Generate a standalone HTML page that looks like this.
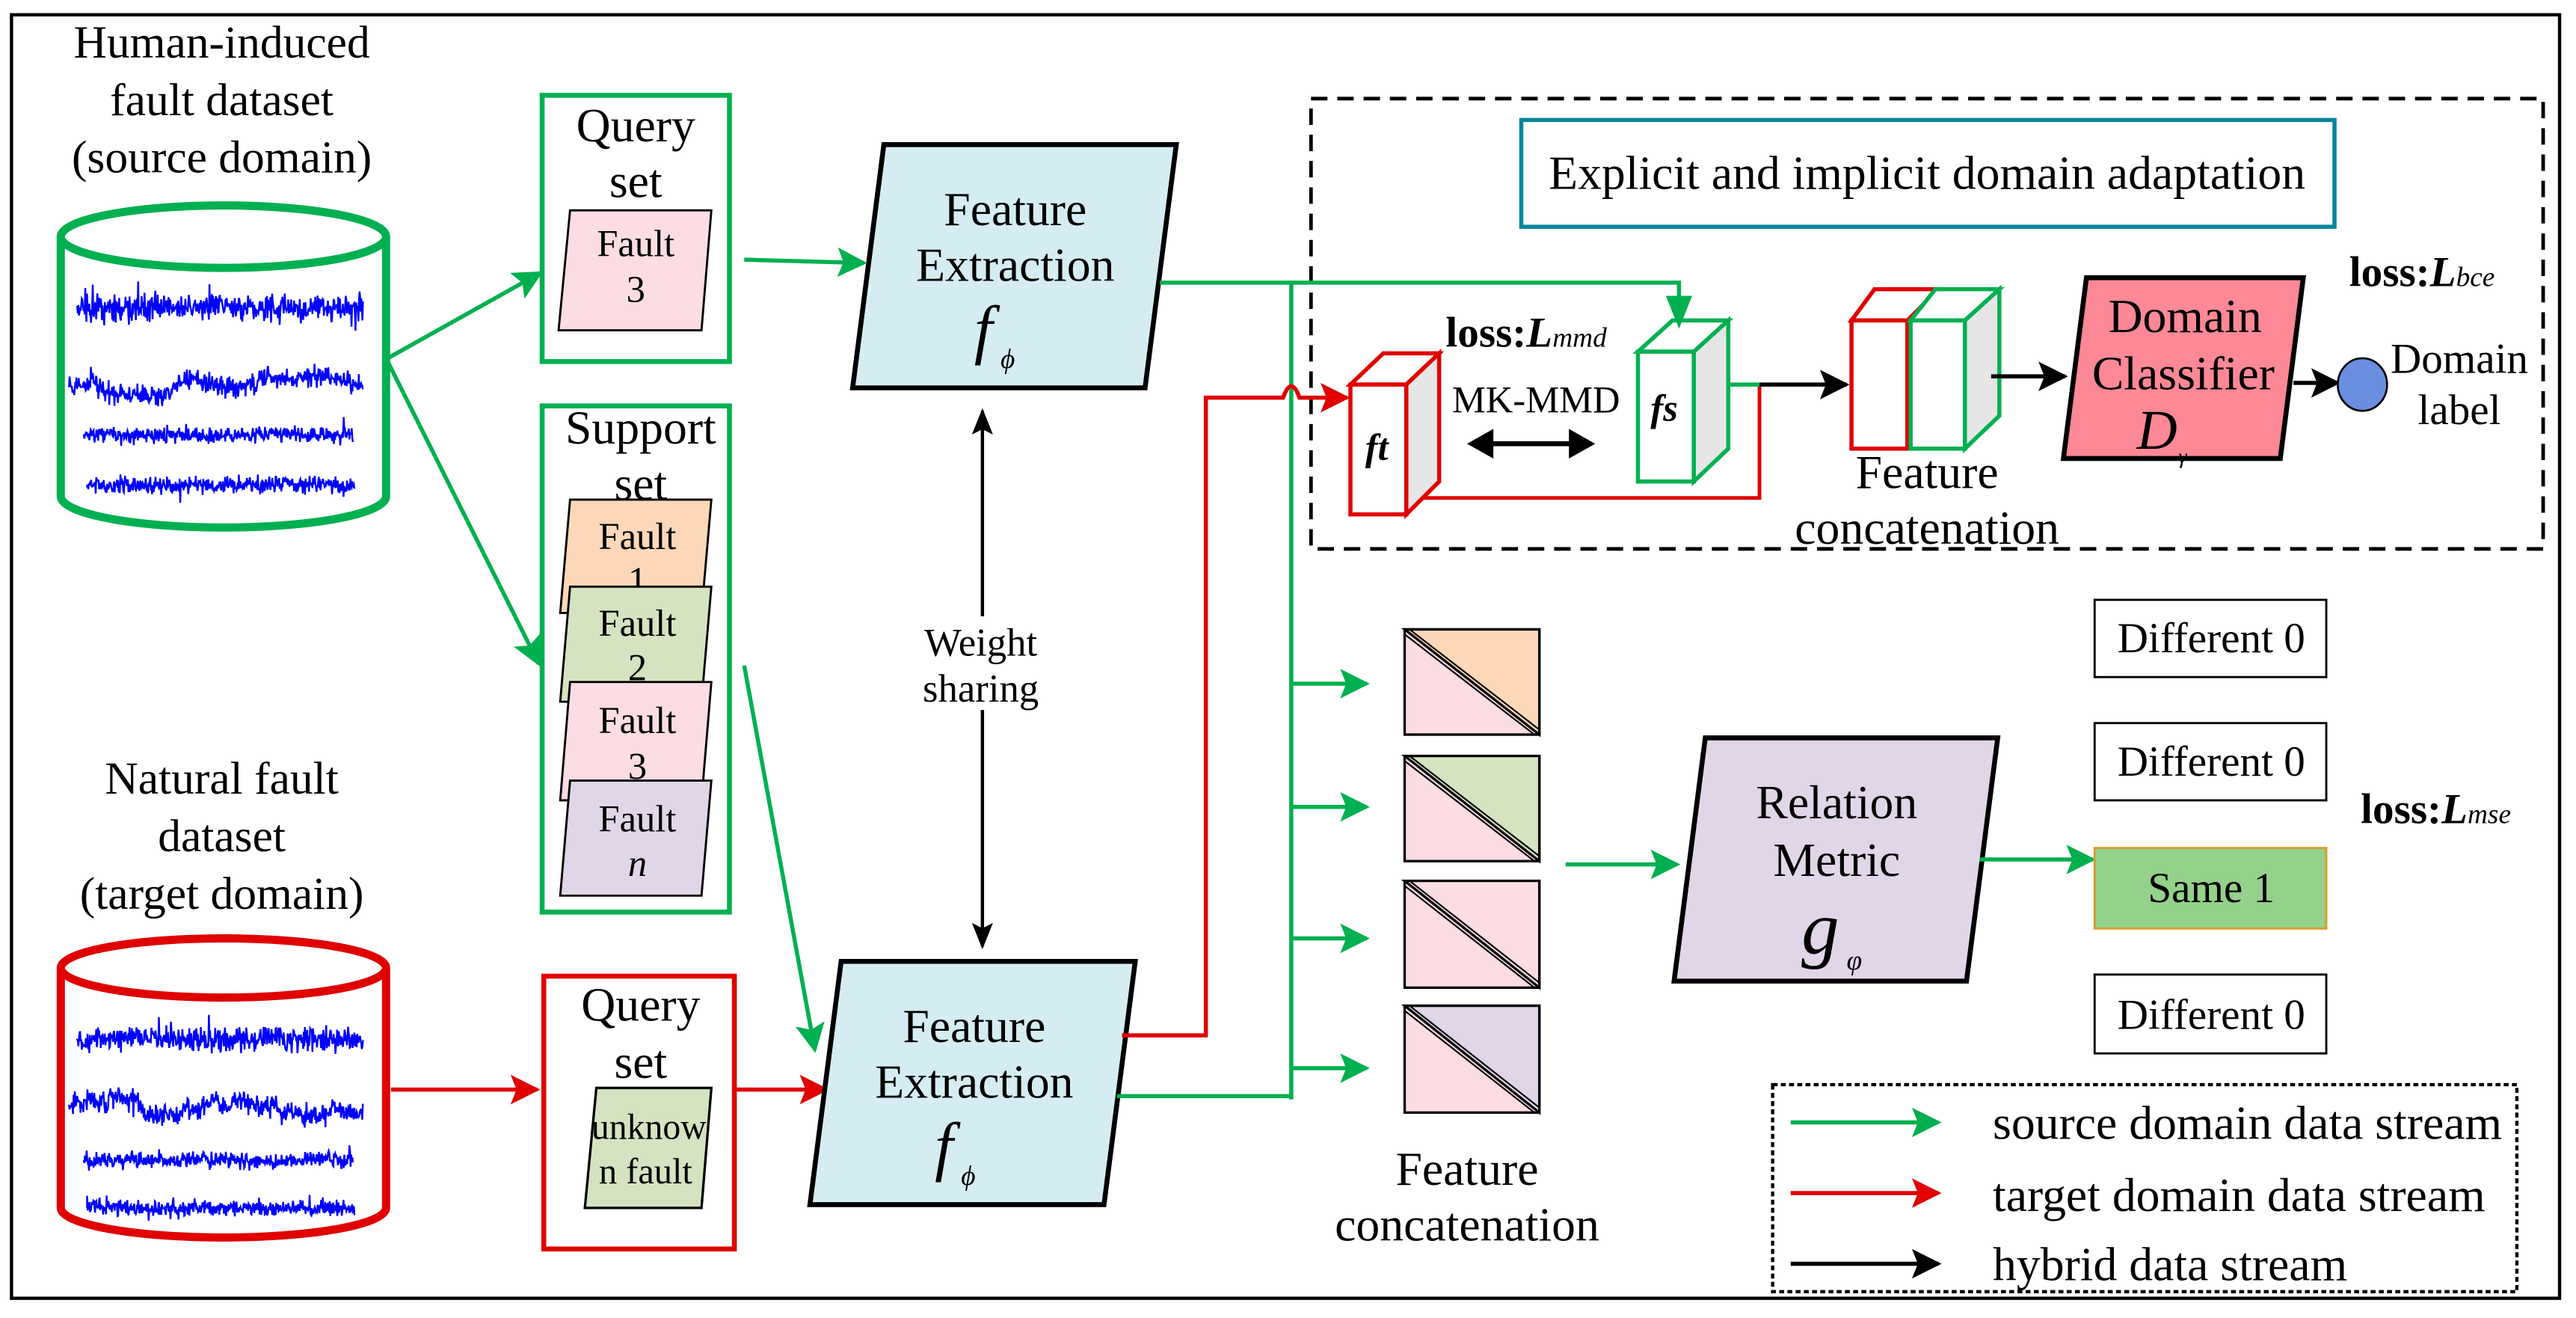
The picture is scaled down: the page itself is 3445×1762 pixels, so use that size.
<!DOCTYPE html>
<html><head><meta charset="utf-8"><style>
html,body{margin:0;padding:0;background:#fff}
svg{display:block}
text{font-family:"Liberation Serif","Times New Roman",serif;fill:#000}
</style></head><body>
<svg id="s" width="3445" height="1762" viewBox="0 0 1568 802" preserveAspectRatio="none" xmlns="http://www.w3.org/2000/svg" font-family="Liberation Serif, serif">
<defs>
<marker id="agL" viewBox="0 0 10 10" refX="9" refY="5" markerWidth="18" markerHeight="18" orient="auto" markerUnits="userSpaceOnUse"><path d="M0,0 L10,5 L0,10 L2,5 z" fill="#00b050"/></marker>
<marker id="arL" viewBox="0 0 10 10" refX="9" refY="5" markerWidth="18" markerHeight="18" orient="auto" markerUnits="userSpaceOnUse"><path d="M0,0 L10,5 L0,10 L2,5 z" fill="#e00000"/></marker>
<marker id="akL" viewBox="0 0 10 10" refX="9" refY="5" markerWidth="18" markerHeight="18" orient="auto" markerUnits="userSpaceOnUse"><path d="M0,0 L10,5 L0,10 L2,5 z" fill="#000"/></marker>
<marker id="akS" viewBox="0 0 10 10" refX="9" refY="5" markerWidth="16" markerHeight="16" orient="auto-start-reverse" markerUnits="userSpaceOnUse"><path d="M0,1 L10,5 L0,9 L2,5 z" fill="#000"/></marker>
</defs>

<rect x="7" y="9" width="1551" height="781" fill="none" stroke="#000" stroke-width="2"/>

<g font-size="28" text-anchor="middle">
<text x="135" y="35">Human-induced</text>
<text x="135" y="70">fault dataset</text>
<text x="135" y="105">(source domain)</text>
<text x="135" y="483">Natural fault</text>
<text x="135" y="518">dataset</text>
<text x="135" y="553">(target domain)</text>
</g>

<path d="M37,144 L37,302 A99,19 0 0 0 235,302 L235,144" fill="#fff" stroke="#00b050" stroke-width="5"/>
<ellipse cx="136" cy="144" rx="99" ry="19" fill="#fff" stroke="#00b050" stroke-width="5"/>
<g id="wg" fill="none" stroke="#0000ff" stroke-width="1.1"></g>
<path d="M37,589 L37,735 A99,18 0 0 0 235,735 L235,589" fill="#fff" stroke="#e00000" stroke-width="5"/>
<ellipse cx="136" cy="589" rx="99" ry="18" fill="#fff" stroke="#e00000" stroke-width="5"/>
<g id="wr" fill="none" stroke="#0000ff" stroke-width="1.1"></g>

<rect x="330" y="58" width="114" height="162" fill="#fff" stroke="#00b050" stroke-width="3"/>
<text x="387" y="86" font-size="29" text-anchor="middle">Query</text>
<text x="387" y="120" font-size="29" text-anchor="middle">set</text>
<path d="M347,128 L433,128 L427,201 L340,201 Z" fill="#fddde4" stroke="#000" stroke-width="1.3"/>
<text x="387" y="156" font-size="23" text-anchor="middle">Fault</text>
<text x="387" y="184" font-size="23" text-anchor="middle">3</text>

<rect x="330" y="247" width="114" height="308" fill="#fff" stroke="#00b050" stroke-width="3"/>
<text x="390" y="270" font-size="29" text-anchor="middle">Support</text>
<text x="390" y="304" font-size="29" text-anchor="middle">set</text>
<path d="M347,304 L433,304 L427,373 L341,373 Z" fill="#fdd8b8" stroke="#000" stroke-width="1.3"/>
<text x="388" y="334" font-size="23" text-anchor="middle">Fault</text>
<text x="388" y="361" font-size="23" text-anchor="middle">1</text>
<path d="M347,357 L433,357 L427,427 L341,427 Z" fill="#d5e3c0" stroke="#000" stroke-width="1.3"/>
<text x="388" y="387" font-size="23" text-anchor="middle">Fault</text>
<text x="388" y="414" font-size="23" text-anchor="middle">2</text>
<path d="M347,415 L433,415 L427,487 L341,487 Z" fill="#fddde4" stroke="#000" stroke-width="1.3"/>
<text x="388" y="446" font-size="23" text-anchor="middle">Fault</text>
<text x="388" y="474" font-size="23" text-anchor="middle">3</text>
<path d="M347,475 L433,475 L427,545 L341,545 Z" fill="#e0d6e8" stroke="#000" stroke-width="1.3"/>
<text x="388" y="506" font-size="23" text-anchor="middle">Fault</text>
<text x="388" y="533" font-size="23" text-anchor="middle" font-style="italic">n</text>

<rect x="331" y="594" width="116" height="166" fill="#fff" stroke="#e00000" stroke-width="3"/>
<text x="390" y="621" font-size="29" text-anchor="middle">Query</text>
<text x="390" y="656" font-size="29" text-anchor="middle">set</text>
<path d="M363,662 L433,662 L427,735 L356,735 Z" fill="#d5e3c0" stroke="#000" stroke-width="1.5"/>
<text x="395" y="693" font-size="22" text-anchor="middle" textLength="70" lengthAdjust="spacingAndGlyphs">unknow</text>
<text x="393" y="720" font-size="22" text-anchor="middle">n fault</text>

<line x1="236" y1="218" x2="329" y2="166" stroke="#00b050" stroke-width="2.5" marker-end="url(#agL)"/>
<line x1="236" y1="220" x2="328" y2="404" stroke="#00b050" stroke-width="2.5" marker-end="url(#agL)"/>
<line x1="453" y1="158" x2="526" y2="160" stroke="#00b050" stroke-width="2.5" marker-end="url(#agL)"/>
<line x1="453" y1="405" x2="496" y2="639" stroke="#00b050" stroke-width="2.5" marker-end="url(#agL)"/>
<line x1="238" y1="663" x2="327" y2="663" stroke="#e00000" stroke-width="2.5" marker-end="url(#arL)"/>
<line x1="447" y1="663" x2="503" y2="663" stroke="#e00000" stroke-width="2.5" marker-end="url(#arL)"/>

<path d="M538,88 L716,88 L697,236 L519,236 Z" fill="#d5edf2" stroke="#000" stroke-width="3"/>
<text x="618" y="137" font-size="29" text-anchor="middle">Feature</text>
<text x="618" y="171" font-size="29" text-anchor="middle">Extraction</text>
<text x="593" y="214" font-size="40" font-style="italic">f</text>
<text x="609" y="224" font-size="17" font-style="italic">ϕ</text>
<path d="M512,585 L691,585 L672,733 L493,733 Z" fill="#d5edf2" stroke="#000" stroke-width="3"/>
<text x="593" y="634" font-size="29" text-anchor="middle">Feature</text>
<text x="593" y="668" font-size="29" text-anchor="middle">Extraction</text>
<text x="569" y="711" font-size="40" font-style="italic">f</text>
<text x="585" y="721" font-size="17" font-style="italic">ϕ</text>

<line x1="598" y1="375" x2="598" y2="250" stroke="#000" stroke-width="2" marker-end="url(#akS)"/>
<line x1="598" y1="432" x2="598" y2="576" stroke="#000" stroke-width="2" marker-end="url(#akS)"/>
<text x="597" y="399" font-size="24" text-anchor="middle">Weight</text>
<text x="597" y="427" font-size="24" text-anchor="middle">sharing</text>

<rect x="798" y="60" width="750" height="274" fill="none" stroke="#000" stroke-width="2.2" stroke-dasharray="10,6"/>
<rect x="926" y="73" width="495" height="65" fill="#fff" stroke="#00859b" stroke-width="2.5"/>
<text x="1173" y="115" font-size="29" text-anchor="middle">Explicit and implicit domain adaptation</text>

<polyline points="706,172 1022,172 1022,190" fill="none" stroke="#00b050" stroke-width="2.5"/>
<line x1="786" y1="172" x2="786" y2="669" stroke="#00b050" stroke-width="2.5"/>
<polyline points="680,667 786,667" fill="none" stroke="#00b050" stroke-width="2.5"/>
<line x1="786" y1="416" x2="832" y2="416" stroke="#00b050" stroke-width="2.5" marker-end="url(#agL)"/>
<line x1="786" y1="491" x2="832" y2="491" stroke="#00b050" stroke-width="2.5" marker-end="url(#agL)"/>
<line x1="786" y1="571" x2="832" y2="571" stroke="#00b050" stroke-width="2.5" marker-end="url(#agL)"/>
<line x1="786" y1="650" x2="832" y2="650" stroke="#00b050" stroke-width="2.5" marker-end="url(#agL)"/>

<path d="M683,630 L734,630 L734,242 L781,242 Q786,228 791,242 L820,242" fill="none" stroke="#e00000" stroke-width="2.5" marker-end="url(#arL)"/>

<path d="M822,234 L842,215 L876,215 L856,234 Z" fill="#fff" stroke="#e00000" stroke-width="2.5"/>
<path d="M856,234 L876,215 L876,293 L856,313 Z" fill="#e6e6e6" stroke="#e00000" stroke-width="2.5"/>
<rect x="822" y="234" width="34" height="79" fill="#fff" stroke="#e00000" stroke-width="2.5"/>
<text x="838" y="280" font-size="23" font-style="italic" font-weight="bold" text-anchor="middle">ft</text>
<path d="M997,214 L1018,195 L1052,195 L1031,214 Z" fill="#fff" stroke="#00b050" stroke-width="2.5"/>
<path d="M1031,214 L1052,195 L1052,273 L1031,293 Z" fill="#e6e6e6" stroke="#00b050" stroke-width="2.5"/>
<rect x="997" y="214" width="34" height="79" fill="#fff" stroke="#00b050" stroke-width="2.5"/>
<text x="1013" y="256" font-size="23" font-style="italic" font-weight="bold" text-anchor="middle">fs</text>
<path d="M1014,180 L1030,180 L1022,200 Z" fill="#00b050"/>

<text x="880" y="211" font-size="26" font-weight="bold">loss:<tspan font-style="italic">L</tspan><tspan font-style="italic" font-weight="normal" font-size="17">mmd</tspan></text>
<text x="935" y="251" font-size="23" text-anchor="middle">MK-MMD</text>
<line x1="906" y1="270" x2="958" y2="270" stroke="#000" stroke-width="3"/>
<path d="M893,270 L909,261 L909,279 Z M971,270 L955,261 L955,279 Z" fill="#000"/>

<polyline points="866,303 1071,303 1071,234" fill="none" stroke="#e00000" stroke-width="2.2"/>
<line x1="1052" y1="234" x2="1071" y2="234" stroke="#00b050" stroke-width="2.5"/>
<line x1="1071" y1="234" x2="1124" y2="234" stroke="#000" stroke-width="2.5" marker-end="url(#akL)"/>

<path d="M1127,195 L1141,176 L1180,176 L1161,195 Z" fill="#fff" stroke="#e00000" stroke-width="2.5"/>
<rect x="1127" y="195" width="34" height="78" fill="#fff" stroke="#e00000" stroke-width="2.5"/>
<path d="M1163,195 L1178,176 L1217,176 L1196,195 Z" fill="#fff" stroke="#00b050" stroke-width="2.5"/>
<path d="M1196,195 L1217,176 L1217,253 L1196,273 Z" fill="#e6e6e6" stroke="#00b050" stroke-width="2.5"/>
<rect x="1163" y="195" width="33" height="78" fill="#fff" stroke="#00b050" stroke-width="2.5"/>
<text x="1173" y="297" font-size="29" text-anchor="middle">Feature</text>
<text x="1173" y="331" font-size="29" text-anchor="middle">concatenation</text>
<line x1="1212" y1="229" x2="1257" y2="229" stroke="#000" stroke-width="2.5" marker-end="url(#akL)"/>

<path d="M1270,169 L1402,169 L1388,279 L1256,279 Z" fill="#fd8896" stroke="#000" stroke-width="3"/>
<text x="1330" y="202" font-size="29" text-anchor="middle">Domain</text>
<text x="1329" y="237" font-size="29" text-anchor="middle">Classifier</text>
<text x="1313" y="273" font-size="34" font-style="italic" text-anchor="middle">D</text>
<text x="1326" y="282" font-size="13" font-style="italic">γ</text>
<line x1="1396" y1="233" x2="1423" y2="233" stroke="#000" stroke-width="2.5" marker-end="url(#akL)"/>
<ellipse cx="1438" cy="234" rx="15" ry="16" fill="#6a8fe0" stroke="#000" stroke-width="1.2"/>
<text x="1497" y="227" font-size="26" text-anchor="middle">Domain</text>
<text x="1497" y="258" font-size="26" text-anchor="middle">label</text>
<text x="1430" y="174" font-size="26" font-weight="bold">loss:<tspan font-style="italic">L</tspan><tspan font-style="italic" font-weight="normal" font-size="17">bce</tspan></text>

<g stroke="#000" stroke-width="1.5">
<rect x="855" y="383" width="82" height="64" fill="#fddde4"/><path d="M855,383 L937,383 L937,447 Z" fill="#fdd8b8"/>
<rect x="855" y="460" width="82" height="64" fill="#fddde4"/><path d="M855,460 L937,460 L937,524 Z" fill="#d5e3c0"/>
<rect x="855" y="536" width="82" height="65" fill="#fddde4"/><path d="M855,536 L937,536 L937,601 Z" fill="#fddde4"/>
<rect x="855" y="612" width="82" height="65" fill="#fddde4"/><path d="M855,612 L937,612 L937,677 Z" fill="#e0d6e8"/>
</g>
<g stroke="#000" stroke-width="1">
<line x1="855" y1="386" x2="934" y2="447"/><line x1="858" y1="460" x2="937" y2="521"/>
<line x1="855" y1="463" x2="934" y2="524"/><line x1="858" y1="536" x2="937" y2="598"/>
<line x1="855" y1="539" x2="934" y2="601"/><line x1="858" y1="612" x2="937" y2="674"/>
<line x1="855" y1="615" x2="934" y2="677"/><line x1="858" y1="383" x2="937" y2="444"/>
</g>
<text x="893" y="721" font-size="29" text-anchor="middle">Feature</text>
<text x="893" y="755" font-size="29" text-anchor="middle">concatenation</text>

<line x1="953" y1="526" x2="1021" y2="526" stroke="#00b050" stroke-width="2.5" marker-end="url(#agL)"/>
<path d="M1038,449 L1216,449 L1197,597 L1019,597 Z" fill="#e0d6e8" stroke="#000" stroke-width="3"/>
<text x="1118" y="498" font-size="29" text-anchor="middle">Relation</text>
<text x="1118" y="533" font-size="29" text-anchor="middle">Metric</text>
<text x="1108" y="580" font-size="46" font-style="italic" text-anchor="middle">g</text>
<text x="1124" y="590" font-size="17" font-style="italic">φ</text>
<line x1="1205" y1="523" x2="1274" y2="523" stroke="#00b050" stroke-width="2.5" marker-end="url(#agL)"/>

<g font-size="26" text-anchor="middle">
<rect x="1275" y="365" width="141" height="47" fill="#fff" stroke="#000" stroke-width="1.3"/><text x="1346" y="397">Different 0</text>
<rect x="1275" y="440" width="141" height="47" fill="#fff" stroke="#000" stroke-width="1.3"/><text x="1346" y="472">Different 0</text>
<rect x="1275" y="516" width="141" height="49" fill="#94d18a" stroke="#d89a2a" stroke-width="1.3"/><text x="1346" y="549">Same 1</text>
<rect x="1275" y="593" width="141" height="48" fill="#fff" stroke="#000" stroke-width="1.3"/><text x="1346" y="626">Different 0</text>
</g>
<text x="1437" y="501" font-size="26" font-weight="bold">loss:<tspan font-style="italic">L</tspan><tspan font-style="italic" font-weight="normal" font-size="17">mse</tspan></text>

<rect x="1079" y="660" width="453" height="126" fill="none" stroke="#000" stroke-width="2" stroke-dasharray="3,2"/>
<line x1="1090" y1="683" x2="1180" y2="683" stroke="#00b050" stroke-width="2.5" marker-end="url(#agL)"/>
<line x1="1090" y1="726" x2="1180" y2="726" stroke="#e00000" stroke-width="2.5" marker-end="url(#arL)"/>
<line x1="1090" y1="769" x2="1180" y2="769" stroke="#000" stroke-width="2.5" marker-end="url(#akL)"/>
<g font-size="29">
<text x="1213" y="693">source domain data stream</text>
<text x="1213" y="737">target domain data stream</text>
<text x="1213" y="779">hybrid data stream</text>
</g>
</svg>
<script>
(function(){
var seed=7;function r(){seed=(seed*16807)%2147483647;return seed/2147483647-0.5;}
function g3(){return (r()+r()+r())*1.2;}
function wave(g,y,x0,x1,amp,drift){var d="M"+x0+","+y;var s=0;for(var x=x0;x<=x1;x+=0.35){s+=r()*0.5;var ph=Math.sin(s)*drift;var a=amp*g3()*(r()>0.45?1.9:1);if(r()>0.49)a*=1.8;d+=" L"+x.toFixed(2)+","+(y+a+ph).toFixed(2);}var p=document.createElementNS("http://www.w3.org/2000/svg","path");p.setAttribute("d",d);g.appendChild(p);}
var g=document.getElementById("wg"),h=document.getElementById("wr");
[[g,187,47,221,6,1],[g,235,42,221,5,6],[g,265,51,215,4,0.5],[g,295,53,216,4,0.5],
 [h,633,47,221,6,1],[h,673,42,221,5,6],[h,706,51,215,4,0.5],[h,735,53,216,4,0.5]].forEach(function(a){wave(a[0],a[1],a[2],a[3],a[4],a[5]);});
})();
</script>
</body></html>
